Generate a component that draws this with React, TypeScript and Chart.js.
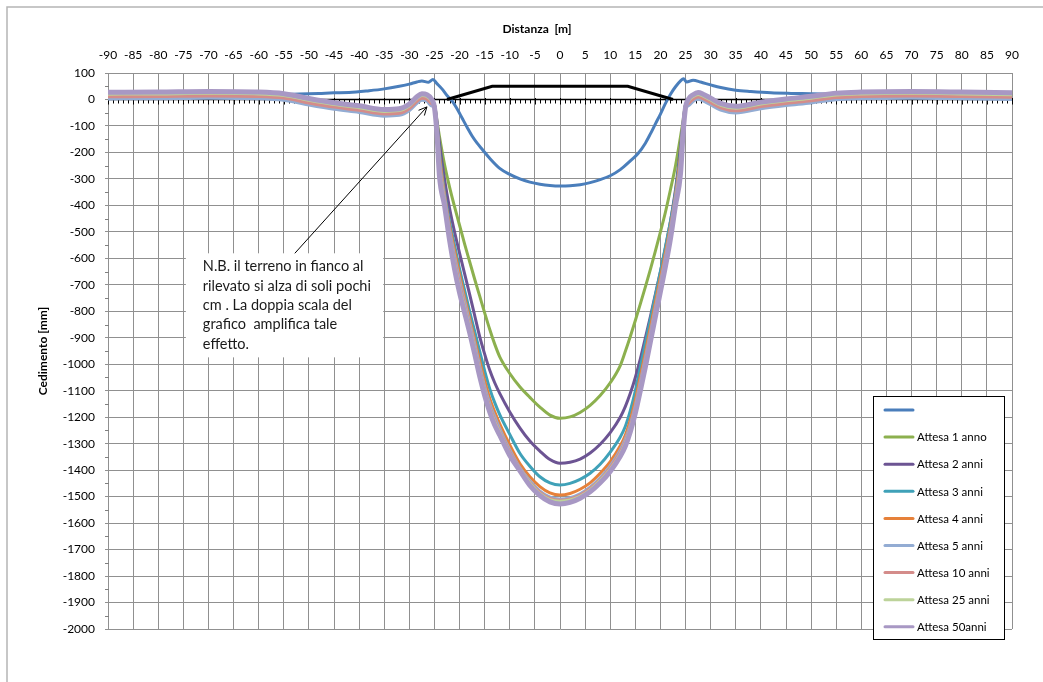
import React, { useEffect, useRef } from 'react';
import { Chart, registerables } from 'chart.js';

Chart.register(...registerables);

// ---------- DATA ----------
const X_MIN = -90;
const X_MAX = 90;
const X_STEP = 5;
const Y_MIN = -2000;
const Y_MAX = 100;
const Y_STEP = 100;

const X_TITLE = 'Distanza  [m]';
const Y_TITLE = 'Cedimento [mm]';

// distances for the settlement curves
const XS = [
  -90, -80, -70, -60, -55, -50, -45, -40, -35, -32, -30, -28.5, -27.5, -26.5, -25.5,
  -25, -24.5, -24, -23, -22, -21, -20, -19, -18, -17, -16, -15, -14, -13, -12, -10, -8, -6, -4, -2, 0,
  2, 4, 6, 8, 10, 12, 13, 14, 15, 16, 17, 18, 19, 20, 21, 22, 23, 24, 24.5, 25,
  25.5, 26.5, 27.5, 28.5, 30, 32, 35, 40, 45, 50, 55, 60, 70, 80, 90,
];

const ATTESA_1 = [
  17, 18, 20, 18, 12, -6, -22, -34, -48, -45, -27, 0, 12, 8, -10,
  -20, -80, -140, -245, -330, -405, -475, -545, -612, -678, -742, -806, -868, -924, -972, -1035, -1085, -1125, -1162, -1192, -1204,
  -1199, -1182, -1155, -1118, -1070, -1005, -952, -895, -835, -772, -708, -642, -572, -500, -425, -340, -250, -140, -80, -20,
  -10, 8, 16, 10, -5, -25, -36, -20, -8, 2, 14, 18, 20, 18, 15,
];
const ATTESA_2 = [
  13, 14, 16, 14, 8, -10, -26, -38, -52, -49, -31, -4, 8, 4, -14,
  -20, -85, -165, -300, -410, -500, -580, -658, -735, -815, -895, -962, -1022, -1070, -1110, -1180, -1240, -1290, -1328, -1360, -1374,
  -1370, -1358, -1335, -1302, -1258, -1200, -1160, -1110, -1050, -980, -900, -820, -735, -650, -560, -460, -340, -180, -90, -20,
  -14, 4, 12, 6, -9, -29, -40, -24, -12, -2, 10, 14, 16, 14, 11,
];
const ATTESA_3 = [
  10, 11, 13, 11, 5, -13, -29, -41, -55, -52, -34, -7, 5, 1, -17,
  -25, -100, -200, -350, -460, -550, -640, -720, -800, -875, -950, -1025, -1092, -1145, -1190, -1265, -1336, -1385, -1425, -1448, -1456,
  -1450, -1435, -1412, -1378, -1332, -1275, -1235, -1175, -1100, -1010, -920, -830, -740, -650, -555, -460, -350, -200, -100, -25,
  -17, 1, 9, 3, -12, -32, -43, -27, -15, -5, 7, 11, 13, 11, 8,
];
const ATTESA_4 = [
  14, 15, 17, 15, 9, -9, -25, -37, -51, -48, -30, -3, 9, 5, -13,
  -25, -105, -210, -360, -475, -570, -660, -745, -825, -905, -985, -1062, -1128, -1180, -1225, -1305, -1375, -1425, -1462, -1486, -1494,
  -1488, -1472, -1448, -1412, -1368, -1308, -1268, -1210, -1135, -1045, -955, -860, -765, -672, -578, -478, -362, -210, -105, -25,
  -13, 5, 13, 7, -8, -28, -39, -23, -11, -1, 11, 15, 17, 15, 12,
];
const ATTESA_5 = [
  3, 4, 6, 4, -2, -20, -36, -48, -62, -59, -41, -14, -2, -6, -24,
  -28, -115, -240, -375, -495, -595, -685, -765, -845, -925, -1010, -1088, -1150, -1200, -1245, -1325, -1392, -1442, -1480, -1503, -1510,
  -1505, -1490, -1465, -1430, -1385, -1325, -1285, -1230, -1160, -1070, -980, -885, -790, -695, -600, -495, -375, -240, -115, -28,
  -24, -6, 2, -4, -19, -39, -50, -34, -22, -12, 0, 4, 6, 4, 1,
];
const ATTESA_10 = [
  11, 12, 14, 12, 6, -12, -28, -40, -54, -51, -33, -6, 6, 2, -16,
  -28, -120, -255, -385, -510, -612, -700, -780, -858, -938, -1025, -1100, -1162, -1212, -1255, -1333, -1396, -1447, -1485, -1508, -1515,
  -1510, -1495, -1470, -1436, -1392, -1333, -1293, -1238, -1168, -1080, -990, -895, -800, -705, -610, -505, -385, -250, -120, -28,
  -16, 2, 10, 4, -11, -31, -42, -26, -14, -4, 8, 12, 14, 12, 9,
];
const ATTESA_25 = [
  21, 22, 24, 22, 16, -2, -18, -30, -44, -41, -23, 4, 16, 12, -6,
  -30, -125, -270, -392, -520, -625, -715, -790, -866, -946, -1035, -1108, -1170, -1220, -1260, -1340, -1398, -1450, -1490, -1512, -1518,
  -1514, -1500, -1475, -1440, -1398, -1340, -1300, -1245, -1175, -1090, -1000, -905, -810, -715, -620, -515, -392, -260, -125, -30,
  -6, 12, 20, 14, -1, -21, -32, -16, -4, 6, 18, 22, 24, 22, 19,
];
const ATTESA_50 = [
  27, 28, 30, 28, 22, 4, -12, -24, -38, -35, -17, 10, 22, 18, 0,
  -30, -130, -290, -400, -530, -640, -730, -805, -880, -960, -1045, -1118, -1180, -1230, -1268, -1345, -1402, -1458, -1496, -1520, -1528,
  -1522, -1506, -1482, -1448, -1405, -1348, -1310, -1255, -1185, -1100, -1010, -915, -820, -725, -630, -525, -400, -280, -130, -30,
  0, 18, 26, 20, 5, -15, -26, -10, 2, 12, 24, 28, 30, 28, 25,
];

// first (unnamed) series: blue curve
const XB = [
  -90, -80, -70, -60, -55, -52, -48, -45, -42, -38, -35, -32, -30, -28.5, -27.5, -26.2, -25.3, -24.5, -23.5, -22.5,
  -21.5, -20.5, -19.5, -18.5, -17.5, -16.5, -15.5, -14, -12, -10, -8, -6, -4, -2, 0,
  2, 4, 6, 8, 10, 12, 14, 15.5, 17, 18, 19, 20, 21, 22, 23, 24, 24.6, 25.2, 26.5, 28, 30, 32, 35, 38, 42, 46, 50, 55, 60, 70, 80, 90,
];
const YB = [
  18, 18, 18, 18, 19, 21, 23, 25, 26, 33, 40, 50, 58, 66, 70, 65, 75, 60, 40, 15,
  -5, -35, -70, -105, -138, -165, -188, -222, -260, -283, -300, -312, -320, -325, -327,
  -326, -322, -314, -303, -288, -265, -232, -205, -165, -130, -92, -55, -15, 20, 48, 70, 78, 66, 73, 66, 55, 45, 35, 30, 25, 23, 22, 20, 19, 18, 18, 17,
];

// embankment profile (black)
const XE = [-22.5, -13.5, 13.5, 22.5];
const YE = [0, 50, 50, 0];

const SERIES_NAMES = ['', 'Attesa 1 anno', 'Attesa 2 anni', 'Attesa 3 anni', 'Attesa 4 anni', 'Attesa 5 anni', 'Attesa 10 anni', 'Attesa 25 anni', 'Attesa 50anni'];
const SERIES_COLORS = ['#4a7ebb', '#8cb04e', '#6c5493', '#3fa1b8', '#e6813a', '#93acd3', '#d48c8a', '#bdd39a', '#a898c4'];
const SERIES_WIDTHS = [3, 3, 3, 3, 3, 3.5, 3.5, 3.5, 5];
const SERIES_VALUES = [YB, ATTESA_1, ATTESA_2, ATTESA_3, ATTESA_4, ATTESA_5, ATTESA_10, ATTESA_25, ATTESA_50];

const NOTE_LINES = [
  'N.B. il terreno in fianco al',
  'rilevato si alza di soli pochi',
  'cm . La doppia scala del',
  'grafico  amplifica tale',
  'effetto.',
];
// note box corners & arrow in data coordinates
const NOTE_BOX = { x0: -74.5, x1: -35.2, y0: -581, y1: -974 };
const ARROW_FROM = { x: -52.8, y: -581 };
const ARROW_TO = { x: -26.5, y: -28 };

const FONT = 'Lato, "Open Sans", sans-serif';
const GRID = '#909090';

const extrasPlugin = {
  id: 'extras',
  beforeDatasetsDraw(chart: any) {
    const { ctx, chartArea: ca, scales } = chart;
    const x = scales.x;
    const y = scales.y;
    ctx.save();
    // minor ticks on the value axis
    ctx.strokeStyle = '#808080';
    ctx.lineWidth = 1;
    for (let v = Y_MIN + 50; v < Y_MAX; v += 100) {
      const py = Math.round(y.getPixelForValue(v)) + 0.5;
      ctx.beginPath();
      ctx.moveTo(ca.left - 3, py);
      ctx.lineTo(ca.left + 1, py);
      ctx.stroke();
    }
    // horizontal axis crossing at 0
    const y0 = Math.round(y.getPixelForValue(0)) + 0.5;
    ctx.strokeStyle = '#000';
    ctx.lineWidth = 1.5;
    ctx.beginPath();
    ctx.moveTo(ca.left, y0);
    ctx.lineTo(ca.right, y0);
    ctx.stroke();
    ctx.lineWidth = 1;
    for (let v = X_MIN; v <= X_MAX; v += 1) {
      const px = Math.round(x.getPixelForValue(v)) + 0.5;
      const major = v % 5 === 0;
      ctx.beginPath();
      ctx.moveTo(px, y0 - (major ? 1.5 : 0));
      ctx.lineTo(px, y0 + (major ? 5 : 4));
      ctx.stroke();
    }
    ctx.restore();
  },
  afterDraw(chart: any) {
    const { ctx, chartArea: ca, scales } = chart;
    const x = scales.x;
    const y = scales.y;
    ctx.save();
    // outer chart border (partially visible)
    ctx.strokeStyle = '#b5b5b5';
    ctx.lineWidth = 1.5;
    ctx.beginPath();
    ctx.moveTo(7, chart.height);
    ctx.lineTo(7, 7);
    ctx.lineTo(chart.width, 7);
    ctx.stroke();

    // x axis title
    ctx.fillStyle = '#000';
    ctx.font = `bold 12px ${FONT}`;
    ctx.textAlign = 'center';
    ctx.textBaseline = 'middle';
    ctx.fillText(X_TITLE, (ca.left + ca.right) / 2 - 23, 29);

    // note box
    const bx0 = x.getPixelForValue(NOTE_BOX.x0);
    const bx1 = x.getPixelForValue(NOTE_BOX.x1);
    const by0 = y.getPixelForValue(NOTE_BOX.y0);
    const by1 = y.getPixelForValue(NOTE_BOX.y1);
    ctx.fillStyle = '#fff';
    ctx.fillRect(bx0, by0, bx1 - bx0, by1 - by0);
    ctx.fillStyle = '#1a1a1a';
    ctx.font = `14.5px ${FONT}`;
    ctx.textAlign = 'left';
    ctx.textBaseline = 'middle';
    NOTE_LINES.forEach((t, i) => ctx.fillText(t, bx0 + 17, by0 + 13.5 + i * 19.3));

    // arrow
    const ax0 = x.getPixelForValue(ARROW_FROM.x);
    const ay0 = y.getPixelForValue(ARROW_FROM.y);
    const ax1 = x.getPixelForValue(ARROW_TO.x);
    const ay1 = y.getPixelForValue(ARROW_TO.y);
    ctx.strokeStyle = '#000';
    ctx.lineWidth = 1;
    ctx.beginPath();
    ctx.moveTo(ax0, ay0);
    ctx.lineTo(ax1, ay1);
    ctx.stroke();
    const ang = Math.atan2(ay1 - ay0, ax1 - ax0);
    const hl = 9;
    ctx.beginPath();
    ctx.moveTo(ax1 - hl * Math.cos(ang - 0.45), ay1 - hl * Math.sin(ang - 0.45));
    ctx.lineTo(ax1, ay1);
    ctx.lineTo(ax1 - hl * Math.cos(ang + 0.45), ay1 - hl * Math.sin(ang + 0.45));
    ctx.stroke();

    // legend
    const lx = ca.right - 139;
    const ly = ca.top + 323;
    const lw = 131;
    const lh = 243;
    ctx.fillStyle = '#fff';
    ctx.fillRect(lx, ly, lw, lh);
    ctx.strokeStyle = '#000';
    ctx.lineWidth = 1;
    ctx.strokeRect(Math.round(lx) + 0.5, Math.round(ly) + 0.5, lw, lh);
    ctx.font = `11.5px ${FONT}`;
    ctx.textAlign = 'left';
    ctx.textBaseline = 'middle';
    SERIES_NAMES.forEach((name, i) => {
      const cy = ly + 14 + i * 27.1;
      ctx.strokeStyle = SERIES_COLORS[i];
      ctx.lineWidth = 3;
      ctx.lineCap = 'round';
      ctx.beginPath();
      ctx.moveTo(lx + 12, cy);
      ctx.lineTo(lx + 40, cy);
      ctx.stroke();
      ctx.fillStyle = '#000';
      ctx.fillText(name, lx + 44, cy + 0.5);
    });
    ctx.restore();
  },
};

export default function App() {
  const canvasRef = useRef<HTMLCanvasElement | null>(null);

  useEffect(() => {
    if (!canvasRef.current) return;
    const datasets: any[] = [];
    // embankment drawn on top
    datasets.push({
      label: 'rilevato',
      data: XE.map((xv, i) => ({ x: xv, y: YE[i] })),
      borderColor: '#000',
      borderWidth: 3,
      pointRadius: 0,
      tension: 0,
      order: 0,
    });
    SERIES_VALUES.forEach((vals, si) => {
      const xs = si === 0 ? XB : XS;
      datasets.push({
        label: SERIES_NAMES[si],
        data: xs.map((xv, i) => ({ x: xv, y: vals[i] })),
        borderColor: SERIES_COLORS[si],
        borderWidth: SERIES_WIDTHS[si],
        pointRadius: 0,
        cubicInterpolationMode: 'monotone',
        borderJoinStyle: 'round',
        borderCapStyle: 'round',
        order: 10 - si,
      });
    });

    const chart = new Chart(canvasRef.current, {
      type: 'line',
      data: { datasets },
      plugins: [extrasPlugin],
      options: {
        responsive: false,
        animation: false,
        devicePixelRatio: 1,
        layout: { padding: { left: 0, top: 0, right: 31, bottom: 53 } },
        plugins: {
          legend: { display: false },
          tooltip: { enabled: false },
          title: { display: false },
        },
        scales: {
          x: {
            type: 'linear',
            position: 'top',
            min: X_MIN,
            max: X_MAX,
            ticks: {
              stepSize: X_STEP,
              autoSkip: false,
              maxRotation: 0,
              padding: 11,
              color: '#000',
              font: { family: FONT, size: 12 },
              callback: (v: any) => String(v),
            },
            grid: { color: GRID, lineWidth: 1, drawTicks: false },
            border: { display: false },
            afterFit: (s: any) => {
              s.height = 73;
            },
          },
          y: {
            type: 'linear',
            min: Y_MIN,
            max: Y_MAX,
            ticks: {
              stepSize: Y_STEP,
              padding: 10,
              color: '#000',
              font: { family: FONT, size: 12 },
              callback: (v: any) => String(v),
            },
            grid: { color: GRID, lineWidth: 1, tickLength: 3 },
            border: { color: GRID },
            title: {
              display: true,
              text: Y_TITLE,
              color: '#000',
              font: { family: FONT, size: 12, weight: 'bold' },
              padding: { top: 36, bottom: 0 },
            },
            afterFit: (s: any) => {
              s.width = 108;
            },
          },
        },
      },
    } as any);
    return () => chart.destroy();
  }, []);

  return (
    <div style={{ position: 'absolute', left: 0, top: 0, width: 1043, height: 682, background: '#fff' }}>
      <canvas ref={canvasRef} width={1043} height={682} style={{ display: 'block' }} />
    </div>
  );
}
